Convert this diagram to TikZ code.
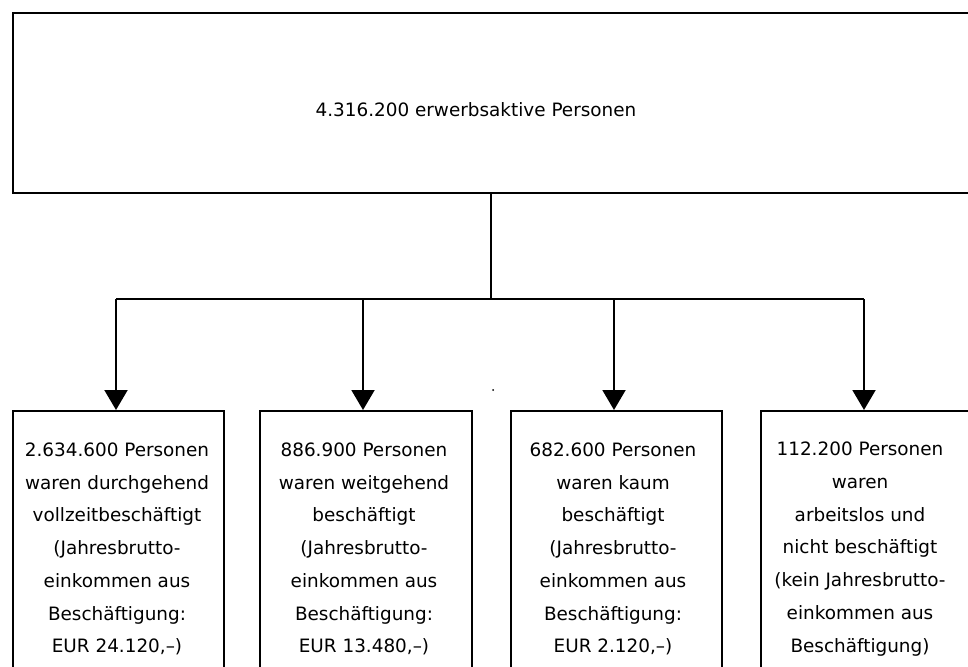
\documentclass[tikz,border=0pt]{standalone}
\usepackage{fontspec}
\setmainfont{DejaVu Sans}
\usetikzlibrary{arrows.meta}
\begin{document}
\begin{tikzpicture}[x=1pt,y=-1pt,
  box/.style={draw=black,line width=1.7pt,inner sep=0pt,anchor=north west},
  txt/.style={align=center,inner sep=0pt,font=\fontsize{18.4}{32.7}\selectfont},
  conn/.style={draw=black,line width=2pt},
  arr/.style={conn,-{Triangle[width=23pt,length=20pt]}}]
\useasboundingbox (0,0) rectangle (968,666);
% top box
\node[box,minimum width=962pt,minimum height=180pt] (top) at (12,12) {};
\node[txt] (toptext) at (476,110) {4.316.200 erwerbsaktive Personen};
% bottom boxes
\node[box,minimum width=211pt,minimum height=265pt] (b1) at (12,410) {};
\node[box,minimum width=212pt,minimum height=265pt] (b2) at (259,410) {};
\node[box,minimum width=211pt,minimum height=265pt] (b3) at (510,410) {};
\node[box,minimum width=215pt,minimum height=265pt] (b4) at (760,410) {};
\node[txt] (t1) at (117,549) {2.634.600 Personen\\waren durchgehend\\vollzeitbeschäftigt\\(Jahresbrutto-\\einkommen aus\\Beschäftigung:\\EUR 24.120,–)};
\node[txt] (t2) at (364,549) {886.900 Personen\\waren weitgehend\\beschäftigt\\(Jahresbrutto-\\einkommen aus\\Beschäftigung:\\EUR 13.480,–)};
\node[txt] (t3) at (613,549) {682.600 Personen\\waren kaum\\beschäftigt\\(Jahresbrutto-\\einkommen aus\\Beschäftigung:\\EUR 2.120,–)};
\node[txt] (t4) at (860,549) {112.200 Personen\\waren\\arbeitslos und\\nicht beschäftigt\\(kein Jahresbrutto-\\einkommen aus\\Beschäftigung)};
% connectors
\coordinate (j) at (491,299);
\coordinate (a1) at (116,299);
\coordinate (a2) at (363,299);
\coordinate (a3) at (614,299);
\coordinate (a4) at (864,299);
\draw[conn] (top.south -| j) -- (j);
\draw[conn] (a1) -- (a4);
\draw[arr] (a1) -- (a1 |- b1.north);
\draw[arr] (a2) -- (a2 |- b2.north);
\draw[arr] (a3) -- (a3 |- b3.north);
\draw[arr] (a4) -- (a4 |- b4.north);
% stray dot
\fill (493,390) circle (1pt);
\end{tikzpicture}
\end{document}
